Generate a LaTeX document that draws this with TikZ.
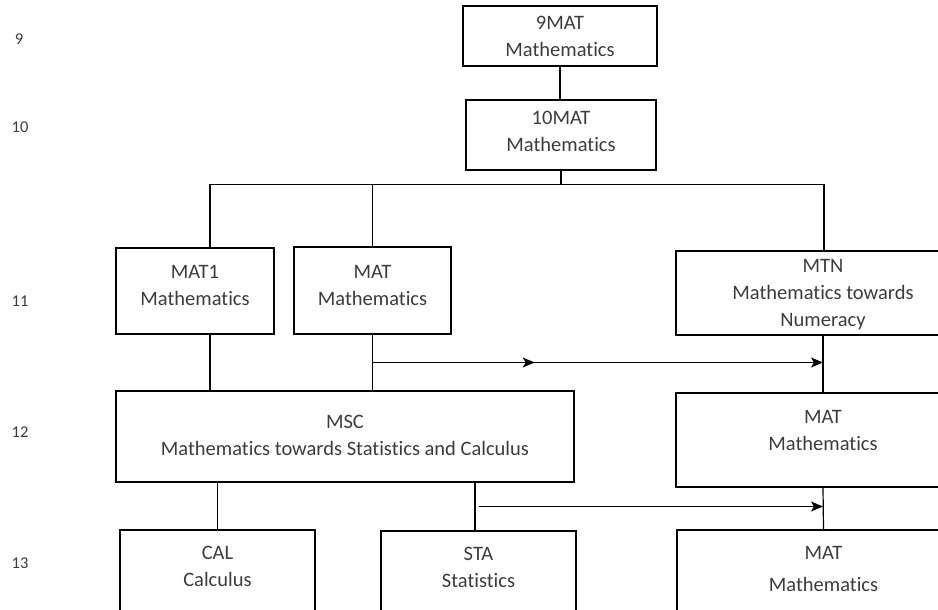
\documentclass[tikz,border=0pt]{standalone}
\usepackage{fontspec}
\setmainfont{Carlito}[Ligatures=NoCommon]
\usetikzlibrary{arrows.meta,decorations.markings,calc}
\definecolor{inkgray}{RGB}{60,60,60}
\tikzset{
  course/.style={draw=black, line width=1.2pt, align=center, text=inkgray,
    font=\fontsize{20.5}{27}\selectfont, inner sep=0pt},
  yearlabel/.style={text=inkgray, font=\fontsize{16.5}{18}\selectfont},
  link/.style={line width=1.2pt},
  flowtip/.tip={Stealth[length=12pt,width=10pt,inset=3pt]},
  flow/.style={link, -{flowtip}},
}

\begin{document}
\begin{tikzpicture}[x=1pt,y=1pt,yscale=-1]
\useasboundingbox (0,0) rectangle (938,610);
\clip (0,0) rectangle (938,610);

% Year labels
\node[yearlabel] (y9) at (19,39) {9};
\node[yearlabel] (y10) at (20,127) {10};
\node[yearlabel] (y11) at (20,301) {11};
\node[yearlabel] (y12) at (20,432) {12};
\node[yearlabel] (y13) at (20,563) {13};

% Year 9 and 10
\node[course, minimum width=194, minimum height=60] (ninemat) at (560,36) {9MAT\\Mathematics};
\node[course, minimum width=190, minimum height=70, text depth=7] (tenmat) at (561,135) {10MAT\\Mathematics};

% Year 11
\node[course, minimum width=158, minimum height=86, text depth=12] (matone) at (195,291) {MAT1\\Mathematics};
\node[course, minimum width=157, minimum height=87, text depth=11] (matb) at (372.5,290.5) {MAT\\Mathematics};
\node[course, minimum width=294, minimum height=84, text depth=0] (mtn) at (823,293) {MTN\\Mathematics towards\\Numeracy};

% Year 12
\node[course, minimum width=458, minimum height=91, text depth=2] (msc) at (345,436.5) {MSC\\Mathematics towards Statistics and Calculus};
\node[course, minimum width=294, minimum height=94, text depth=20] (matc) at (823,440) {MAT\\Mathematics};

% Year 13
\node[course, minimum width=195, minimum height=94, text depth=21] (cal) at (217.5,577) {CAL\\Calculus};
\node[course, minimum width=195, minimum height=94, text depth=21] (sta) at (478.5,578) {STA\\Statistics};
\node[course, minimum width=293, minimum height=94, text depth=16] (matd) at (823.5,577) {MAT\\[5pt]Mathematics};

% Connectors
\draw[link] (ninemat.south) -- (ninemat.south |- tenmat.north);
\draw[link] (tenmat.south) -- ++(0,14) coordinate (bus);
\draw[link] ([xshift=15]matone.north) |- (bus) -| ([xshift=1]mtn.north);
\draw[link] (matb.north) -- (matb.north |- bus);

\draw[link] ([xshift=15]matone.south) -- ([xshift=15]matone.south |- msc.north);
\draw[link] (matb.south) -- (matb.south |- msc.north);
\coordinate (split) at ($(matb.south)!0.5!(matb.south |- msc.north)$);
\draw[flow, postaction={decorate},
  decoration={markings, mark=at position 0.36 with {\arrow{flowtip}}}]
  (split) -- (split -| mtn.south);
\draw[link] (mtn.south) -- (matc.north);

\draw[link] (cal.north |- msc.south) -- (cal.north);
\draw[link] ([xshift=-3.5]sta.north |- msc.south) -- ([xshift=-3.5]sta.north);
\coordinate (split2) at ($([xshift=0.5]sta.north)!0.5!([xshift=0.5]sta.north |- msc.south)$);
\draw[flow] (split2) -- (split2 -| matc.south);
\draw[link] (matc.south) -- (matd.north);

\end{tikzpicture}
\end{document}
